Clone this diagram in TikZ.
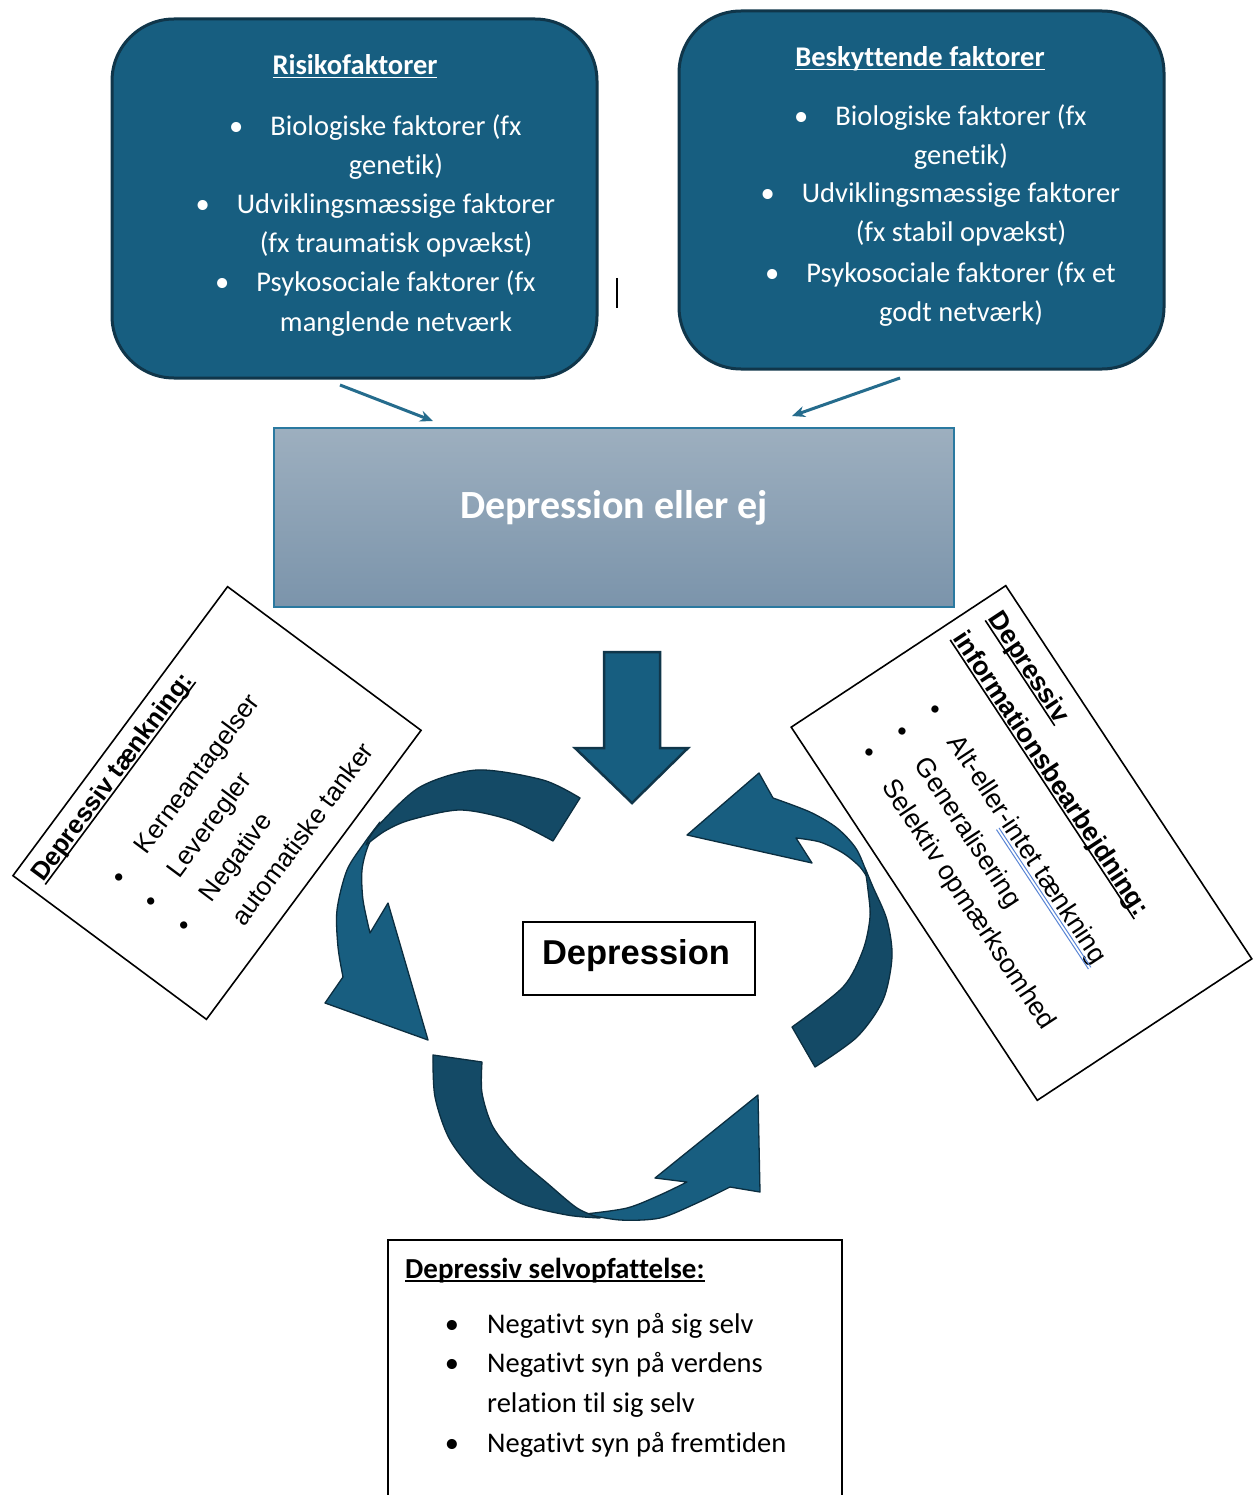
\documentclass[tikz,border=0pt]{standalone}
\usepackage{fontspec}
\setmainfont{Carlito}[Ligatures={NoCommon,NoRare}]
\newfontfamily\arialf{Liberation Sans}
\usetikzlibrary{arrows.meta}
\newcommand\myul[1]{\setbox0\hbox{#1}\rlap{\copy0}\rule[-3.5pt]{\wd0}{1.6pt}}
\definecolor{boxfill}{HTML}{175E80}
\definecolor{boxedge}{HTML}{10364A}
\definecolor{arrowline}{HTML}{256C8D}
\definecolor{decTop}{HTML}{9DAFBF}
\definecolor{decBot}{HTML}{7B94AB}
\definecolor{decEdge}{HTML}{2A79A0}
\definecolor{cycLight}{HTML}{185E80}
\definecolor{cycDark}{HTML}{144A66}
\definecolor{cycEdge}{HTML}{0B2E40}
\definecolor{spell}{HTML}{5A86D6}
\tikzset{
  topbox/.style={draw=boxedge, fill=boxfill, line width=3pt, rounded corners=62pt, inner sep=0pt},
  toptxt/.style={text=white, font=\fontsize{28.5}{34}\selectfont, inner sep=0pt, anchor=base},
  toptitle/.style={text=white, font=\bfseries\fontsize{28.5}{34}\selectfont, inner sep=0pt, anchor=base},
  topbul/.style={text=white, font=\fontsize{28.5}{34}\selectfont, inner sep=0pt, anchor=base},
  conn/.style={draw=arrowline, line width=3pt, -{Stealth[length=13pt,width=11pt]}},
  decide/.style={draw=decEdge, line width=2pt, top color=decTop, bottom color=decBot, inner sep=0pt},
  cycL/.style={fill=cycLight, draw=cycEdge, line width=1.3pt, line join=round},
  cycD/.style={fill=cycDark, draw=cycEdge, line width=1.3pt, line join=round},
  blockarrow/.style={fill=boxfill, draw=boxedge, line width=2.5pt, line join=miter},
  rbox/.style={draw=black, line width=1.6pt},
  rtxt/.style={font=\arialf\fontsize{26.7}{30}\selectfont, anchor=base west, inner sep=0pt},
  rtitle/.style={font=\arialf\bfseries\fontsize{26}{30}\selectfont, anchor=base west, inner sep=0pt},
  rbul/.style={font=\arialf\fontsize{26.7}{30}\selectfont, anchor=base, inner sep=0pt},
  btxt/.style={font=\fontsize{28.5}{34}\selectfont, anchor=base west, inner sep=0pt},
  bbul/.style={font=\fontsize{28.5}{34}\selectfont, anchor=base, inner sep=0pt},
}
\begin{document}
\begin{tikzpicture}[x=1pt, y=-1pt]
\useasboundingbox (0,0) rectangle (1255,1495);
\fill[white] (0,0) rectangle (1255,1495);

% ---------- top boxes ----------
\node[topbox, minimum width=485pt, minimum height=359pt] (risk) at (354.5,198.5) {};
\node[topbox, minimum width=485pt, minimum height=358pt] (prot) at (921.5,190) {};

\node[toptitle] (rt) at (355,75) {\myul{Risikofaktorer}};
\node[toptxt] (r1a) at (396,136) {Biologiske faktorer (fx};
\node[toptxt] (r1b) at (396,175) {genetik)};
\node[toptxt] (r2a) at (396,214) {Udviklingsmæssige faktorer};
\node[toptxt] (r2b) at (396,253) {(fx traumatisk opvækst)};
\node[toptxt] (r3a) at (396,292) {Psykosociale faktorer (fx};
\node[toptxt] (r3b) at (396,331) {manglende netværk};
\node[topbul] (rb1) at ([xshift=-34pt]r1a.base west) {•};
\node[topbul] (rb2) at ([xshift=-34pt]r2a.base west) {•};
\node[topbul] (rb3) at ([xshift=-34pt]r3a.base west) {•};

\node[toptitle] (pt) at (920,67) {\myul{Beskyttende faktorer}};
\node[toptxt] (p1a) at (961,126) {Biologiske faktorer (fx};
\node[toptxt] (p1b) at (961,165) {genetik)};
\node[toptxt] (p2a) at (961,203) {Udviklingsmæssige faktorer};
\node[toptxt] (p2b) at (961,242) {(fx stabil opvækst)};
\node[toptxt] (p3a) at (961,283) {Psykosociale faktorer (fx et};
\node[toptxt] (p3b) at (961,322) {godt netværk)};
\node[topbul] (pb1) at ([xshift=-34pt]p1a.base west) {•};
\node[topbul] (pb2) at ([xshift=-34pt]p2a.base west) {•};
\node[topbul] (pb3) at ([xshift=-34pt]p3a.base west) {•};

% stray cursor mark
\draw[line width=1.5pt] (617,278) -- (617,308);

% ---------- decision box ----------
\node[decide, minimum width=680pt, minimum height=179pt] (dec) at (614,517.5) {};
\node[text=white, font=\bfseries\fontsize{40}{46}\selectfont, anchor=base, inner sep=0pt] (dectxt) at (614,518) {Depression eller ej};

\coordinate (ra) at (340,385);
\coordinate (rb) at (433,421);
\coordinate (pa) at (900,378);
\coordinate (pbb) at (792,416);
\draw[conn] (ra) -- (rb);
\draw[conn] (pa) -- (pbb);

% ---------- down block arrow ----------
\draw[blockarrow] (604,652) -- (660,652) -- (660,748) -- (688,748) -- (632,803) -- (575,748) -- (604,748) -- cycle;

% ---------- cycle arrows ----------
% top-left arrow
\draw[cycL] plot[smooth] coordinates {(380,822) (365,842) (347,870) (337,910) (338,947) (343,977)}
  -- (325,1003) -- (428,1040) -- (388,903) -- (370,933)
  -- plot[smooth] coordinates {(370,933) (363,900) (362,870) (368,846) (380,822)} -- cycle;
\draw[cycD] plot[smooth] coordinates {(580,798) (543,780) (477,770) (420,787) (377,827) (366,845)}
  -- plot[smooth] coordinates {(366,845) (385,831) (410,820) (460,810) (510,820) (553,841)} -- cycle;
% right arrow
\draw[cycL] plot[smooth] coordinates {(870,882) (857,850) (837,828) (810,812) (773,798)}
  -- (759,773) -- (687,835) -- (812,863) -- (796,838)
  -- plot[smooth] coordinates {(796,838) (820,842) (843,853) (860,867) (870,882)} -- cycle;
\draw[cycD] plot[smooth] coordinates {(815,1067) (857,1037) (883,1000) (892,957) (887,920) (873,887) (865,868)}
  -- plot[smooth] coordinates {(865,868) (868,890) (870,917) (863,950) (843,987) (792,1027)} -- cycle;
% bottom arrow
\draw[cycL] plot[smooth] coordinates {(585,1214) (620,1220) (660,1218) (697,1203) (730,1187)}
  -- (760,1192) -- (758,1095) -- (655,1178) -- (687,1182)
  -- plot[smooth] coordinates {(687,1182) (660,1195) (627,1208) (585,1214)} -- cycle;
\draw[cycD] plot[smooth] coordinates {(433,1055) (435,1097) (450,1140) (480,1177) (520,1203) (567,1215) (600,1218)}
  -- plot[smooth] coordinates {(600,1218) (577,1208) (547,1183) (517,1157) (493,1127) (482,1093) (482,1062)} -- cycle;

% ---------- centre box ----------
\node[draw=black, line width=1.8pt, minimum width=232pt, minimum height=73pt, inner sep=0pt] (dep) at (639,958.5) {};
\node[font=\arialf\bfseries\fontsize{34.5}{40}\selectfont, anchor=base, inner sep=0pt] (deptxt) at (636,964.5) {Depression};

% ---------- left rotated box ----------
\begin{scope}[shift={(217,803)}, rotate=53.4, transform shape]
  \draw[rbox] (-180,-120.5) rectangle (180,120.5);
  \node[rtitle, font=\arialf\bfseries\fontsize{25.5}{30}\selectfont] (lt) at (-168,-92) {\myul{Depressiv tænkning:}};
  \node[rtxt, font=\arialf\fontsize{26}{30}\selectfont] (l1) at (-84,-25) {Kerneantagelser};
  \node[rtxt, font=\arialf\fontsize{26}{30}\selectfont] (l2) at (-84,15) {Leveregler};
  \node[rtxt, font=\arialf\fontsize{26}{30}\selectfont] (l3) at (-84,56) {Negative};
  \node[rtxt, font=\arialf\fontsize{26}{30}\selectfont] (l4) at (-84,96) {automatiske tanker};
  \node[rbul] (lb1) at (-118,-25) {•};
  \node[rbul] (lb2) at (-118,15) {•};
  \node[rbul] (lb3) at (-118,56) {•};
\end{scope}

% ---------- right rotated box ----------
\begin{scope}[shift={(1021.5,843)}, rotate=-56.6, transform shape]
  \draw[rbox] (-223.5,-128.5) rectangle (223.5,128.5);
  \node[rtitle, font=\arialf\bfseries\fontsize{26.4}{30}\selectfont] (it1) at (-206,-95) {\myul{Depressiv}};
  \node[rtitle, font=\arialf\bfseries\fontsize{26.4}{30}\selectfont] (it2) at (-209,-55) {\myul{informationsbearbejdning:}};
  \node[rtxt] (i1) at (-125,7) {Alt-eller-intet tænkning};
  \node[rtxt] (i2) at (-125,47) {Generalisering};
  \node[rtxt] (i3) at (-125,86) {Selektiv opmærksomhed};
  \node[rbul] (ib1) at (-159,7) {•};
  \node[rbul] (ib2) at (-159,47) {•};
  \node[rbul] (ib3) at (-159,86) {•};
  \draw[spell, line width=1pt] (-25,10.5) -- (142,10.5);
  \draw[spell, line width=1pt] (-25,13.5) -- (142,13.5);
\end{scope}

% ---------- bottom box ----------
\draw[line width=1.8pt] (388,1500) -- (388,1240) -- (842,1240) -- (842,1500);
\node[btxt, font=\bfseries\fontsize{29}{34}\selectfont] (st) at (405,1278) {\myul{Depressiv selvopfattelse:}};
\node[btxt] (s1) at (487,1333) {Negativt syn på sig selv};
\node[btxt] (s2) at (487,1372) {Negativt syn på verdens};
\node[btxt] (s3) at (487,1412) {relation til sig selv};
\node[btxt] (s4) at (487,1452) {Negativt syn på fremtiden};
\node[bbul] (sb1) at (452,1333) {•};
\node[bbul] (sb2) at (452,1372) {•};
\node[bbul] (sb4) at (452,1452) {•};
\end{tikzpicture}
\end{document}
